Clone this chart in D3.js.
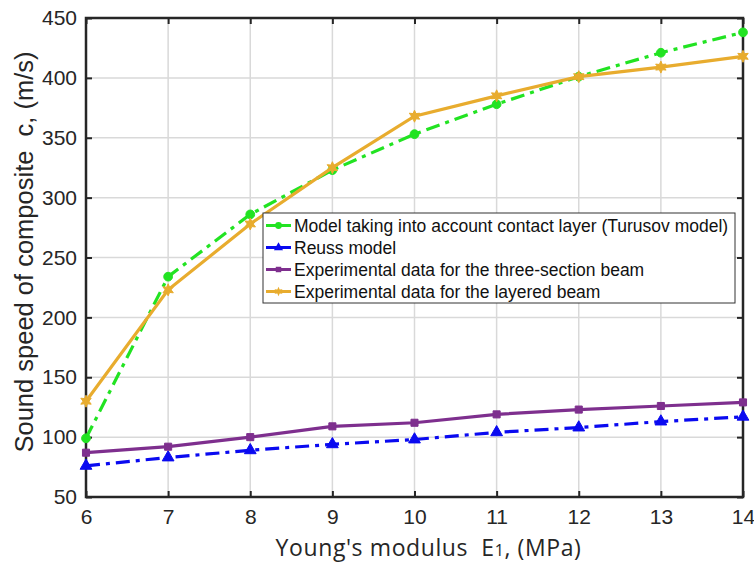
<!DOCTYPE html>
<html>
<head>
<meta charset="utf-8">
<script src="https://cdn.jsdelivr.net/npm/d3@7"></script>
<style>
  body { margin: 0; background: #fff; }
  svg { display: block; }
  text { white-space: pre; }
</style>
</head>
<body>
<div id="chart"></div>
<script>
const modulus = [6, 7, 8, 9, 10, 11, 12, 13, 14];
const turusov = [99, 234, 286, 323, 353, 378, 401, 421, 438];
const reuss = [76, 83, 89, 94, 98, 104, 108, 113, 117];
const threeSection = [87, 92, 100, 109, 112, 119, 123, 126, 129];
const layered = [130, 223, 278, 325, 368, 385, 401, 409, 418];
const yTicks = [50, 100, 150, 200, 250, 300, 350, 400, 450];
const seriesNames = [
    "Model taking into account contact layer (Turusov model)",
    "Reuss model",
    "Experimental data for the three-section beam",
    "Experimental data for the layered beam"
];

const totalW = 754, totalH = 565;
const margin = { top: 18, right: 11, bottom: 68, left: 86 };
const width = totalW - margin.left - margin.right;
const height = totalH - margin.top - margin.bottom;

const x = d3.scaleLinear().domain([6, 14]).range([0, width]);
const y = d3.scaleLinear().domain([50, 450]).range([height, 0]);

// six-pointed star like matlab 'hexagram'
const hexagram = {
    draw(ctx, size) {
        const R = Math.sqrt(size) * 0.75, r = R * 0.5;
        for (let i = 0; i < 12; i++) {
            const a = -Math.PI / 2 + i * Math.PI / 6;
            const rr = i % 2 ? r : R;
            if (i === 0) ctx.moveTo(rr * Math.cos(a), rr * Math.sin(a));
            else ctx.lineTo(rr * Math.cos(a), rr * Math.sin(a));
        }
        ctx.closePath();
    }
};

const series = [
    { name: seriesNames[0], values: turusov, color: "#22e322", dash: "14,6,4,6", symbol: d3.symbolCircle, size: 60 },
    { name: seriesNames[1], values: reuss, color: "#0a0af0", dash: "14,6,4,6", symbol: d3.symbolTriangle, size: 60 },
    { name: seriesNames[2], values: threeSection, color: "#7e2f8e", dash: null, symbol: d3.symbolSquare, size: 50 },
    { name: seriesNames[3], values: layered, color: "#e8ac2e", dash: null, symbol: hexagram, size: 64 }
];

const svg = d3.select("#chart").append("svg")
    .attr("width", totalW)
    .attr("height", totalH)
    .append("g")
    .attr("transform", "translate(" + margin.left + "," + margin.top + ")");

// grid
svg.append("g").selectAll("line")
    .data(modulus)
    .enter().append("line")
    .attr("x1", d => x(d)).attr("x2", d => x(d))
    .attr("y1", 0).attr("y2", height)
    .attr("stroke", "#d9d9d9").attr("stroke-width", 1.5);
svg.append("g").selectAll("line")
    .data(yTicks)
    .enter().append("line")
    .attr("y1", d => y(d)).attr("y2", d => y(d))
    .attr("x1", 0).attr("x2", width)
    .attr("stroke", "#d9d9d9").attr("stroke-width", 1.5);

// axes (ticks inward, matlab box)
const tickFont = "'Liberation Sans', Arial, sans-serif";
const styleAxis = g => {
    g.select(".domain").remove();
    g.selectAll(".tick line").attr("stroke", "#262626").attr("stroke-width", 2);
    g.selectAll(".tick text").attr("fill", "#262626").style("font-family", tickFont).style("font-size", "21px");
};

svg.append("g")
    .attr("transform", "translate(0," + height + ")")
    .call(d3.axisBottom(x).tickValues(modulus).tickFormat(d3.format("d")).tickSizeInner(-6).tickPadding(12))
    .call(styleAxis);
svg.append("g")
    .call(d3.axisTop(x).tickValues(modulus).tickFormat("").tickSizeInner(-6))
    .call(styleAxis);
svg.append("g")
    .call(d3.axisLeft(y).tickValues(yTicks).tickFormat(d3.format("d")).tickSizeInner(-6).tickPadding(9))
    .call(styleAxis);
svg.append("g")
    .attr("transform", "translate(" + width + ",0)")
    .call(d3.axisRight(y).tickValues(yTicks).tickFormat("").tickSizeInner(-6))
    .call(styleAxis);

svg.append("rect")
    .attr("width", width).attr("height", height)
    .attr("fill", "none").attr("stroke", "#262626").attr("stroke-width", 2.5);

// lines
const line = d3.line()
    .x((d, i) => x(modulus[i]))
    .y(d => y(d));

series.forEach(s => {
    svg.append("path")
        .datum(s.values)
        .attr("d", line)
        .attr("fill", "none")
        .attr("stroke", s.color)
        .attr("stroke-width", 3.2)
        .attr("stroke-dasharray", s.dash);
    svg.append("g").selectAll("path")
        .data(s.values)
        .enter().append("path")
        .attr("transform", (d, i) => "translate(" + x(modulus[i]) + "," + y(d) + ")")
        .attr("d", d3.symbol().type(s.symbol).size(s.size))
        .attr("fill", s.color)
        .attr("stroke", s.color)
        .attr("stroke-width", 1);
});

// legend
const legend = svg.append("g")
    .attr("transform", "translate(" + (263 - margin.left) + "," + (213 - margin.top) + ")");
legend.append("rect")
    .attr("width", 472).attr("height", 90)
    .attr("fill", "#fff").attr("stroke", "#333").attr("stroke-width", 1);
series.forEach((s, i) => {
    const row = legend.append("g").attr("transform", "translate(0," + (12.5 + i * 22) + ")");
    row.append("line")
        .attr("x1", 3).attr("x2", 28)
        .attr("stroke", s.color).attr("stroke-width", 3);
    row.append("path")
        .attr("transform", "translate(15.5,0)")
        .attr("d", d3.symbol().type(s.symbol).size(s.size * 0.6))
        .attr("fill", s.color);
    row.append("text")
        .attr("x", 31).attr("y", 0).attr("dy", "0.36em")
        .style("font-family", tickFont)
        .style("font-size", "17.5px")
        .attr("fill", "#111")
        .text(s.name);
});

// axis titles
svg.append("text")
    .attr("x", 342.5)
    .attr("y", height + 59)
    .attr("text-anchor", "middle")
    .style("font-family", "'Open Sans', 'Noto Sans', sans-serif")
    .style("font-size", "23px")
    .style("letter-spacing", "0.6px")
    .attr("fill", "#262626")
    .call(t => {
        t.append("tspan").text("Young's modulus  E");
        t.append("tspan").style("font-size", "16px").text("1");
        t.append("tspan").text(", (MPa)");
    });

svg.append("text")
    .attr("transform", "rotate(-90)")
    .attr("x", -(252 - margin.top))
    .attr("y", 33 - margin.left)
    .attr("text-anchor", "middle")
    .style("font-family", tickFont)
    .style("font-size", "25.5px")
    .attr("fill", "#262626")
    .text("Sound speed of composite  c, (m/s)");
</script>
</body>
</html>
